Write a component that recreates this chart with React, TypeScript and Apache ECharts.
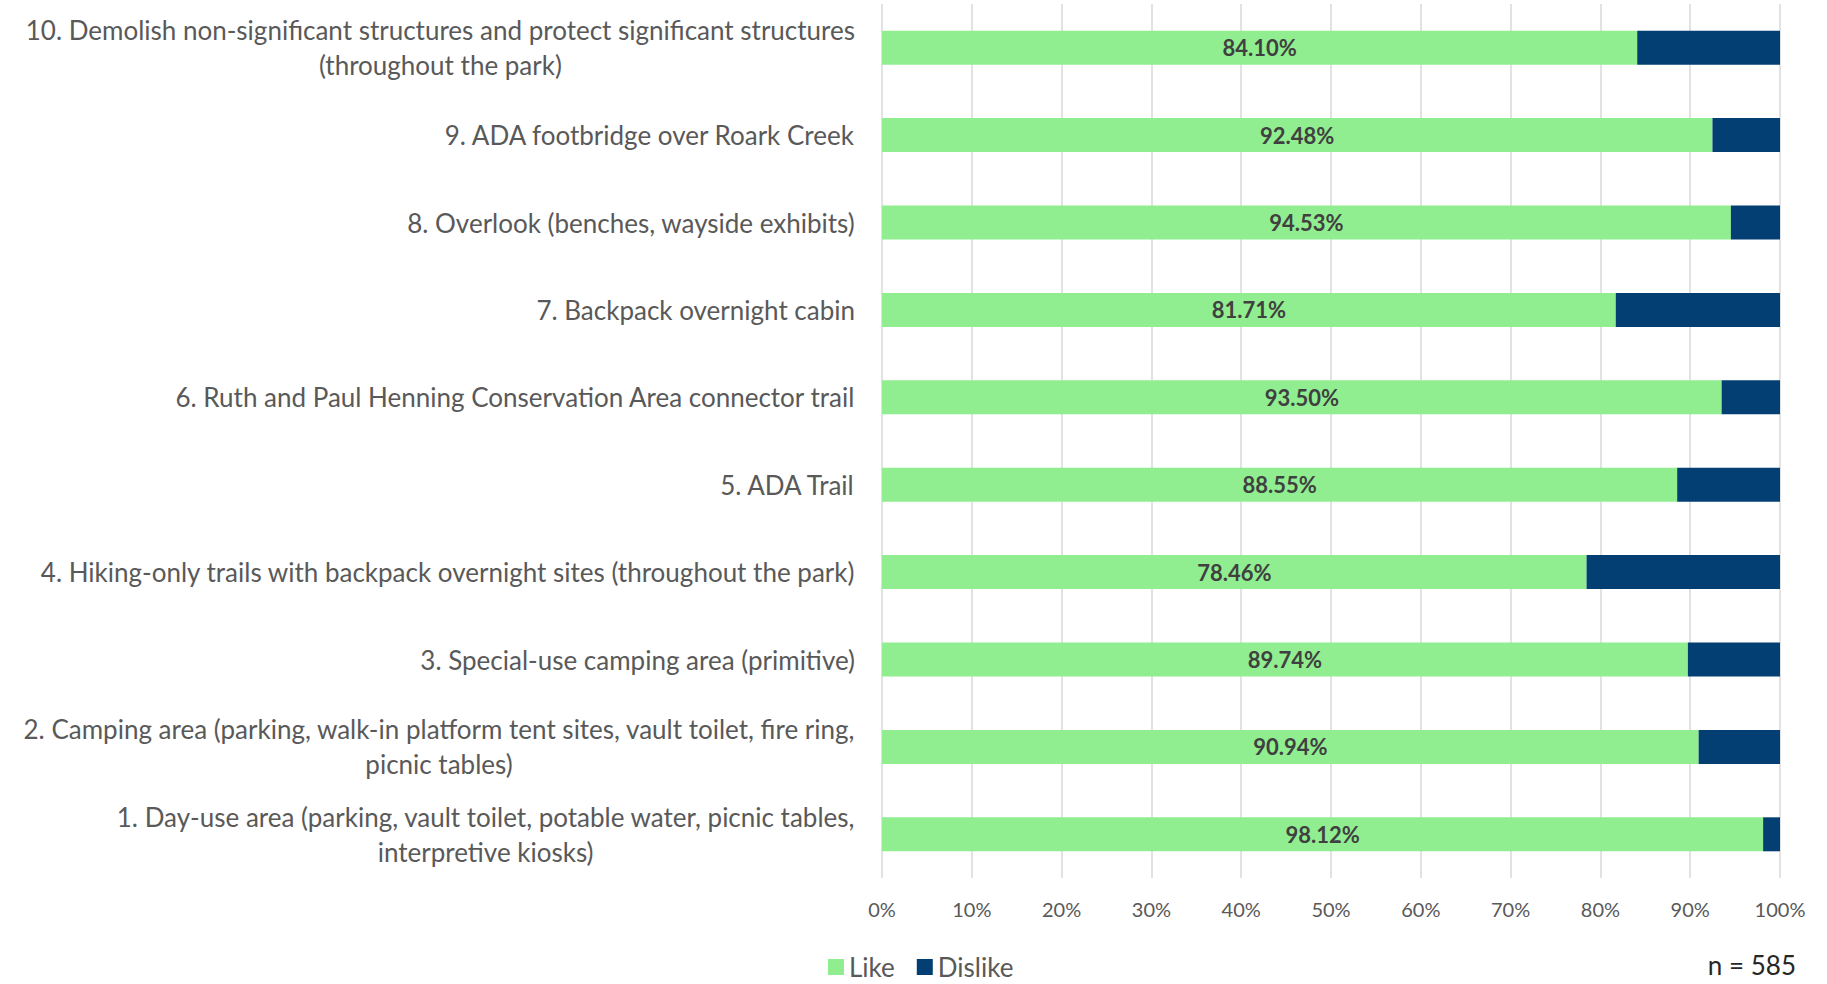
import React, { useEffect, useRef } from "react";
import * as echarts from "echarts";

const categories: string[] = [
  "1. Day-use area (parking, vault toilet, potable water, picnic tables,\ninterpretive kiosks)",
  "2. Camping area (parking, walk-in platform tent sites, vault toilet, fire ring,\npicnic tables)",
  "3. Special-use camping area (primitive)",
  "4. Hiking-only trails with backpack overnight sites (throughout the park)",
  "5. ADA Trail",
  "6. Ruth and Paul Henning Conservation Area connector trail",
  "7. Backpack overnight cabin",
  "8. Overlook (benches, wayside exhibits)",
  "9. ADA footbridge over Roark Creek",
  "10. Demolish non-significant structures and protect significant structures\n(throughout the park)",
];

const likeValues: number[] = [98.12, 90.94, 89.74, 78.46, 88.55, 93.5, 81.71, 94.53, 92.48, 84.1];
const dislikeValues: number[] = [1.88, 9.06, 10.26, 21.54, 11.45, 6.5, 18.29, 5.47, 7.52, 15.9];

const seriesNames: string[] = ["Like", "Dislike"];
const sampleNote = "n = 585";

const FONT = "Lato, 'Noto Sans', sans-serif";

export default function App() {
  const ref = useRef<HTMLDivElement>(null);

  useEffect(() => {
    if (!ref.current) return;
    const chart = echarts.init(ref.current, undefined, { renderer: "svg" });
    chart.setOption({
      animation: false,
      backgroundColor: "#ffffff",
      textStyle: { fontFamily: FONT },
      grid: { left: 882, right: 47, top: 4, bottom: 106, containLabel: false },
      legend: {
        data: seriesNames,
        left: 823,
        top: 949,
        icon: "rect",
        itemWidth: 16,
        itemHeight: 16,
        itemGap: 22,
        textStyle: { fontSize: 26, color: "#595959", fontFamily: FONT },
      },
      xAxis: {
        type: "value",
        min: 0,
        max: 100,
        interval: 10,
        axisLine: { show: false },
        axisTick: { show: false },
        splitLine: { show: true, lineStyle: { color: "#d9d9d9", width: 1.5 } },
        axisLabel: {
          formatter: (v: number) => `${v}%`,
          fontSize: 20,
          color: "#595959",
          margin: 21,
          fontFamily: FONT,
        },
      },
      yAxis: {
        type: "category",
        data: categories,
        axisLine: { show: false },
        axisTick: { show: false },
        splitLine: { show: false },
        axisLabel: {
          margin: 27,
          align: "right",
          fontSize: 26,
          color: "#595959",
          fontFamily: FONT,
          formatter: (v: string) =>
            v
              .split("\n")
              .map((l) => `{c|${l}}`)
              .join("\n"),
          rich: {
            c: {
              align: "center",
              fontSize: 26,
              lineHeight: 35,
              color: "#595959",
              fontFamily: FONT,
            },
          },
        },
      },
      series: [
        {
          name: seriesNames[0],
          type: "bar",
          stack: "total",
          data: likeValues,
          barWidth: 34,
          itemStyle: { color: "#90ee90" },
          label: {
            show: true,
            position: "inside",
            formatter: (p: any) => `${Number(p.value).toFixed(2)}%`,
            fontSize: 22,
            fontWeight: "bold",
            color: "#404040",
            fontFamily: FONT,
          },
        },
        {
          name: seriesNames[1],
          type: "bar",
          stack: "total",
          data: dislikeValues,
          barWidth: 34,
          itemStyle: { color: "#033f73" },
          label: { show: false },
        },
      ],
      graphic: [
        {
          type: "text",
          right: 31,
          top: 952,
          style: {
            text: sampleNote,
            fontSize: 26,
            fill: "#262626",
            fontFamily: FONT,
          },
        },
      ],
    });
    return () => chart.dispose();
  }, []);

  return (
    <div
      ref={ref}
      style={{ position: "fixed", left: 0, top: 0, width: 1827, height: 984 }}
    />
  );
}
